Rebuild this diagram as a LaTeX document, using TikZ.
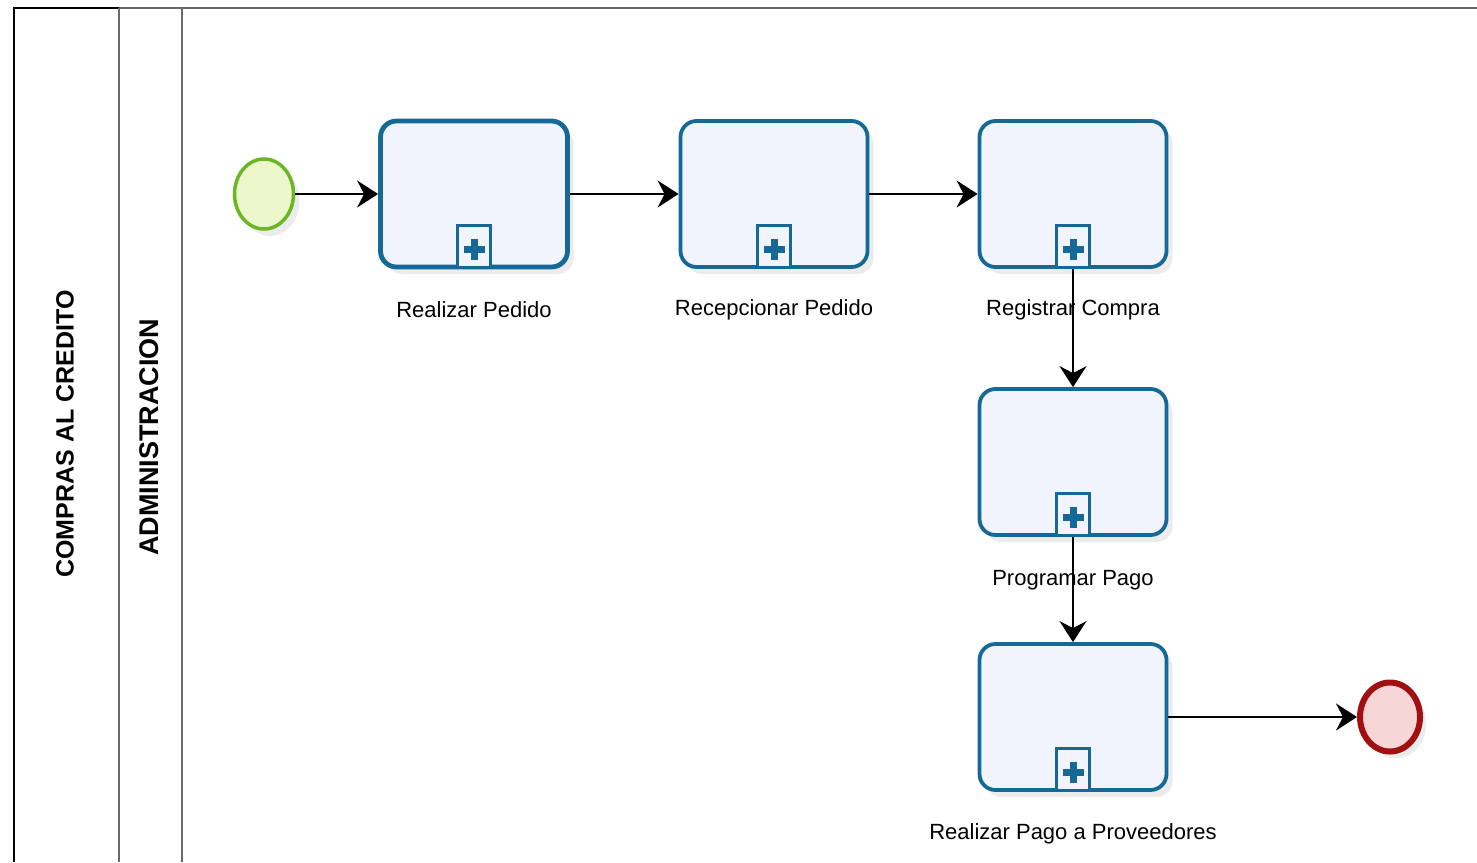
\documentclass[tikz,border=0pt]{standalone}
\usepackage{fontspec}
\setmainfont{Liberation Sans}
\usepackage{tikz}
\usetikzlibrary{calc,arrows.meta,shadows,shapes.geometric,positioning}
\definecolor{taskblue}{RGB}{22,104,150}
\definecolor{taskfill}{RGB}{241,243,253}
\definecolor{startgreen}{RGB}{108,182,38}
\definecolor{startfill}{RGB}{236,248,204}
\definecolor{endred}{RGB}{160,16,16}
\definecolor{endfill}{RGB}{246,214,214}
\definecolor{lanegrey}{RGB}{105,105,105}
\tikzset{flow/.style={line width=2pt,-{Stealth[length=21pt,width=27pt,inset=7pt]}}}

\begin{document}
\begin{tikzpicture}[x=1pt,y=-1pt,font=\fontsize{22}{26}\selectfont]

\tikzset{task/.style={draw=taskblue,line width=3.8pt,rounded corners=16pt,fill=taskfill,minimum width=187pt,minimum height=146pt,inner sep=0pt,drop shadow={opacity=.15,shadow xshift=6pt,shadow yshift=-7pt}},
plusbox/.style={draw=taskblue,line width=3pt,fill=taskfill,minimum width=33pt,minimum height=42pt,inner sep=0pt,
  path picture={\fill[taskblue] ($(path picture bounding box.center)+(-10.5pt,-6.5pt)$) rectangle ++(21pt,7pt);
                \fill[taskblue] ($(path picture bounding box.center)+(-3.5pt,-13.5pt)$) rectangle ++(7pt,21pt);}},
startevent/.style={shape=ellipse,draw=startgreen,line width=3.5pt,fill=startfill,minimum width=59pt,minimum height=70pt,inner sep=0pt,drop shadow={opacity=.15,shadow xshift=6pt,shadow yshift=-7pt}},
endevent/.style={shape=ellipse,draw=endred,line width=6pt,fill=endfill,minimum width=60pt,minimum height=69pt,inner sep=0pt,drop shadow={opacity=.15,shadow xshift=6pt,shadow yshift=-7pt}},
tasklabel/.style={inner sep=0pt},
lanetitle/.style={font=\fontsize{25}{28}\selectfont\bfseries,rotate=90,inner sep=0pt}}

\useasboundingbox (0,0) rectangle (1477,862);

% Pool and lanes
\draw[lanegrey,line width=1.5pt] (119,8) -- (1477,8);
\draw[line width=2pt] (119,8) -- (14,8) -- (14,862);
\foreach \x in {119,182} \draw[lanegrey,line width=2pt] (\x,8) -- (\x,862);
\node[lanetitle] (pool) at (65,434) {COMPRAS AL CREDITO};
\node[lanetitle,font=\fontsize{27}{30}\selectfont\bfseries] (lane) at (149,437) {ADMINISTRACION};

% Events
\node[startevent] (start) at (264,194) {};
\node[endevent] (end) at (1390,717) {};

% Tasks
\node[task,line width=4.8pt] (t1) at (474,194) {};
\node[task] (t2) at (774,194) {};
\node[task] (t3) at (1073,194) {};
\node[task] (t4) at (1073,462) {};
\node[task] (t5) at (1073,717) {};
\foreach \t in {t1,t2,t3,t4,t5} \node[plusbox,anchor=south] (m\t) at (\t.south) {};

% Task labels
\node[tasklabel] (l1) at (474,310) {Realizar Pedido};
\node[tasklabel] (l2) at (774,310) {Recepcionar Pedido};
\node[tasklabel] (l3) at (1073,310) {Registrar Compra};
\node[tasklabel] (l4) at (1073,580) {Programar Pago};
\node[tasklabel] (l5) at (1073,834) {Realizar Pago a Proveedores};

% Sequence flows
\draw[flow] (start) -- (t1);
\draw[flow] (t1) -- (t2);
\draw[flow] (t2) -- (t3);
\draw[flow] (t3.south) -- (t4.north);
\draw[flow] (t4.south) -- (t5.north);
\draw[flow] (t5.east) -- (end.west);

\end{tikzpicture}
\end{document}
